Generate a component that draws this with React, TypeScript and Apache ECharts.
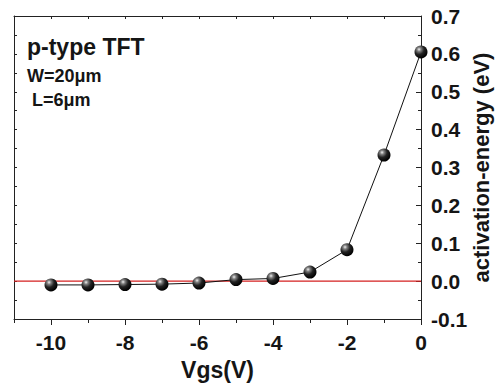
import React, { useEffect, useRef } from "react";
import * as echarts from "echarts";

const vgs = [-10, -9, -8, -7, -6, -5, -4, -3, -2, -1, 0];
const activationEnergy = [-0.01, -0.01, -0.009, -0.008, -0.005, 0.004, 0.007, 0.024, 0.083, 0.333, 0.605];
const majorXTicks = [-10, -8, -6, -4, -2, 0];
const minorXTicks = [-11, -9, -7, -5, -3, -1];
const zeroLineX = [-11, 0];
const zeroLineY = [0, 0];
const titleText = "p-type TFT";
const widthText = "W=20μm";
const lengthText = " L=6μm";
const xName = "Vgs(V)";
const yName = "activation-energy (eV)";

const FONT = "'Liberation Sans', Arial, sans-serif";
const AXIS_COLOR = "#222";
const TEXT_COLOR = "#151515";

export default function App() {
  const ref = useRef<HTMLDivElement>(null);
  useEffect(() => {
    if (!ref.current) return;
    const chart = echarts.init(ref.current, null, { renderer: "svg" });
    const data = vgs.map((x, i) => [x, activationEnergy[i]]);
    const zeroData = zeroLineX.map((x, i) => [x, zeroLineY[i]]);
    const sphere = new echarts.graphic.RadialGradient(0.35, 0.3, 0.7, [
      { offset: 0, color: "#f0f0f0" },
      { offset: 0.22, color: "#808080" },
      { offset: 0.55, color: "#222222" },
      { offset: 1, color: "#000000" },
    ]);
    chart.setOption({
      animation: false,
      backgroundColor: "#ffffff",
      grid: { left: 14, right: 75, top: 16, bottom: 65, containLabel: false, outerBoundsMode: "none" },
      xAxis: [
        {
          type: "value",
          position: "bottom",
          min: -11,
          max: 0,
          interval: 1,
          name: xName,
          nameLocation: "middle",
          nameGap: 39,
          nameMoveOverlap: false,
          nameTextStyle: { fontFamily: FONT, fontWeight: "bold", fontSize: 23, color: TEXT_COLOR },
          axisLine: { show: true, onZero: false, lineStyle: { color: AXIS_COLOR, width: 1 } },
          axisTick: { show: true, inside: false, length: 6, customValues: majorXTicks, lineStyle: { color: AXIS_COLOR } },
          axisLabel: {
            show: true,
            customValues: majorXTicks,
            margin: 13,
            fontFamily: FONT,
            fontWeight: "bold",
            fontSize: 21,
            color: TEXT_COLOR,
          },
          splitLine: { show: false },
        },
        {
          type: "value",
          position: "bottom",
          min: -11,
          max: 0,
          interval: 1,
          axisLine: { show: false, onZero: false },
          axisTick: { show: true, inside: false, length: 4, customValues: minorXTicks, lineStyle: { color: AXIS_COLOR } },
          axisLabel: { show: false },
          splitLine: { show: false },
        },
        {
          type: "value",
          position: "top",
          min: -11,
          max: 0,
          interval: 1,
          axisLine: { show: true, onZero: false, lineStyle: { color: AXIS_COLOR, width: 1 } },
          axisTick: { show: true, inside: true, length: 3, lineStyle: { color: AXIS_COLOR } },
          axisLabel: { show: false },
          splitLine: { show: false },
        },
      ],
      yAxis: [
        {
          type: "value",
          position: "right",
          min: -0.1,
          max: 0.7,
          interval: 0.1,
          name: yName,
          nameLocation: "middle",
          nameRotate: 90,
          nameGap: 49,
          nameMoveOverlap: false,
          nameTextStyle: { fontFamily: FONT, fontWeight: "bold", fontSize: 22, color: TEXT_COLOR },
          axisLine: { show: true, onZero: false, lineStyle: { color: AXIS_COLOR, width: 1 } },
          axisTick: { show: true, inside: true, length: 5, lineStyle: { color: AXIS_COLOR } },
          minorTick: { show: true, splitNumber: 2, length: 3, lineStyle: { color: AXIS_COLOR } },
          axisLabel: {
            show: true,
            margin: 10,
            fontFamily: FONT,
            fontWeight: "bold",
            fontSize: 21,
            color: TEXT_COLOR,
            formatter: (v: number) => v.toFixed(1),
          },
          splitLine: { show: false },
          minorSplitLine: { show: false },
        },
        {
          type: "value",
          position: "left",
          min: -0.1,
          max: 0.7,
          interval: 0.05,
          axisLine: { show: true, onZero: false, lineStyle: { color: AXIS_COLOR, width: 1 } },
          axisTick: { show: true, inside: true, length: 3, lineStyle: { color: AXIS_COLOR } },
          axisLabel: { show: false },
          splitLine: { show: false },
        },
      ],
      graphic: [
        {
          type: "text",
          left: 27,
          top: 35,
          style: { text: titleText, fontFamily: FONT, fontWeight: "bold", fontSize: 23, fill: TEXT_COLOR },
        },
        {
          type: "text",
          left: 27,
          top: 67,
          style: { text: widthText, fontFamily: FONT, fontWeight: "bold", fontSize: 18, fill: TEXT_COLOR },
        },
        {
          type: "text",
          left: 27,
          top: 91,
          style: { text: lengthText, fontFamily: FONT, fontWeight: "bold", fontSize: 18, fill: TEXT_COLOR },
        },
      ],
      series: [
        {
          type: "line",
          name: "zero",
          xAxisIndex: 0,
          yAxisIndex: 0,
          data: zeroData,
          symbol: "none",
          silent: true,
          lineStyle: { color: "#d42020", width: 1.2 },
          z: 2,
        },
        {
          type: "line",
          name: "Ea",
          xAxisIndex: 0,
          yAxisIndex: 0,
          data,
          clip: false,
          symbol: "circle",
          symbolSize: 13,
          showAllSymbol: true,
          lineStyle: { color: "#111", width: 1 },
          itemStyle: { color: sphere, borderWidth: 0 },
          z: 3,
        },
      ],
    });
    return () => chart.dispose();
  }, []);
  return (
    <div
      ref={ref}
      style={{ position: "fixed", left: 0, top: 0, width: 496, height: 384, background: "#fff" }}
    />
  );
}
